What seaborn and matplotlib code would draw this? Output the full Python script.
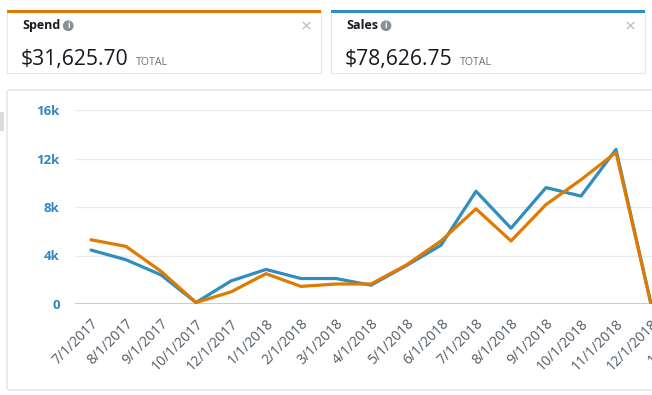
import matplotlib
matplotlib.use("Agg")
import matplotlib.pyplot as plt
from matplotlib.patches import Rectangle, FancyBboxPatch, Circle
import seaborn as sns
import pandas as pd

# ---- data ----
dates = ["7/1/2017", "8/1/2017", "9/1/2017", "10/1/2017", "12/1/2017",
         "1/1/2018", "2/1/2018", "3/1/2018", "4/1/2018", "5/1/2018",
         "6/1/2018", "7/1/2018", "8/1/2018", "9/1/2018", "10/1/2018",
         "11/1/2018", "12/1/2018", "1/1/2019"]
sales = [4450, 3650, 2400, 120, 1900, 2850, 2100, 2100, 1550, 3150,
         4850, 9300, 6250, 9600, 8900, 12750, 0]
spend = [5300, 4750, 2700, 120, 1000, 2500, 1450, 1650, 1650, 3200,
         5200, 7850, 5200, 8200, 10250, 12500, 0]
y_ticks = [0, 4000, 8000, 12000, 16000]
y_tick_labels = ["0", "4k", "8k", "12k", "16k"]
card_titles = ["Spend", "Sales"]
card_values = ["$31,625.70", "$78,626.75"]
card_note = "TOTAL"

ORANGE = "#e17a00"
BLUE = "#2e8ec0"

sns.set_theme(style="white")
plt.rcParams["font.family"] = ["Open Sans", "DejaVu Sans"]

W, H = 652, 395
fig = plt.figure(figsize=(W / 100, H / 100), dpi=100)
fig.patch.set_facecolor("white")

def fx(x):
    return x / W

def fy(y):
    return 1 - y / H

# ---- chart panel ----
panel = FancyBboxPatch((fx(7), fy(390)), fx(700) - fx(7), fy(90) - fy(390),
                       boxstyle="round,pad=0,rounding_size=0.006",
                       transform=fig.transFigure, facecolor="white",
                       edgecolor="#e3e3e3", linewidth=1.0, zorder=0)
fig.add_artist(panel)
fig.add_artist(Rectangle((fx(0), fy(131)), fx(4), fy(112) - fy(131),
                         transform=fig.transFigure, facecolor="#dcdcdc",
                         edgecolor="none"))

# ---- cards ----
card_specs = [(7, 321, ORANGE), (331, 645, BLUE)]
for (x0, x1, col), title, val in zip(card_specs, card_titles, card_values):
    # shadow
    fig.add_artist(Rectangle((fx(x0), fy(74)), fx(x1) - fx(x0), fy(12) - fy(74),
                             transform=fig.transFigure, facecolor="#ececec",
                             edgecolor="none", zorder=1))
    fig.add_artist(Rectangle((fx(x0), fy(73)), fx(x1) - fx(x0), fy(12) - fy(73),
                             transform=fig.transFigure, facecolor="white",
                             edgecolor="#e6e6e6", linewidth=0.8, zorder=2))
    fig.add_artist(Rectangle((fx(x0), fy(13)), fx(x1) - fx(x0), fy(10) - fy(13),
                             transform=fig.transFigure, facecolor=col,
                             edgecolor="none", zorder=3))
    tx = x0 + 15
    t = fig.text(fx(tx), fy(25.5), title, fontsize=9, fontweight="bold",
                 color="#16191f", va="center", ha="left", zorder=4)
    fig.canvas.draw()
    bb = t.get_window_extent()
    cx = bb.x1 + 8
    fig.add_artist(Circle((cx, H - 25.7), 5.4, transform=None,
                          facecolor="#879196", edgecolor="none", zorder=4))
    fig.text(cx / W, fy(25.7), "i", fontsize=6, fontweight="bold",
             color="white", ha="center", va="center", zorder=5)
    fig.text(fx(x1 - 15), fy(27), "\u00d7", fontsize=14, color="#b4bdc0",
             ha="center", va="center", zorder=4)
    v = fig.text(fx(tx - 1), fy(65), val, fontsize=15.2, color="#16191f",
                 ha="left", va="baseline", zorder=4)
    fig.canvas.draw()
    vb = v.get_window_extent()
    fig.text((vb.x1 + 7) / W, fy(65), card_note, fontsize=7.6,
             color="#687078", ha="left", va="baseline", zorder=4)

# ---- line chart ----
ax = fig.add_axes([fx(75), fy(304), fx(700) - fx(75), fy(110) - fy(304)])
ax.set_facecolor("none")

n = len(sales)
df = pd.DataFrame({
    "idx": list(range(n)) * 2,
    "value": sales + spend,
    "series": ["Sales"] * n + ["Spend"] * n,
})
sns.lineplot(data=df, x="idx", y="value", hue="series",
             hue_order=["Sales", "Spend"],
             palette={"Sales": BLUE, "Spend": ORANGE},
             linewidth=2.3, legend=False, sort=False, ax=ax, zorder=3)

ax.set_xlim(-0.457, 17.4)
ax.set_ylim(0, 16000)
ax.set_yticks(y_ticks)
ax.set_yticklabels(y_tick_labels)
ax.set_xticks(range(len(dates)))
ax.set_xticklabels(dates, rotation=45, ha="right", va="top",
                   rotation_mode="anchor")
for yv in y_ticks[1:]:
    ax.axhline(yv, color="#e9ebed", linewidth=1.0, zorder=1)
ax.axhline(0, color="#b8c9da", linewidth=1.3, zorder=2)
for s in ax.spines.values():
    s.set_visible(False)
ax.tick_params(axis="y", length=0, pad=11, labelsize=9.5, labelcolor="#2f86c1")
ax.tick_params(axis="x", length=0, pad=9, labelsize=10, labelcolor="#545b64")
for lab in ax.get_yticklabels():
    lab.set_fontweight("bold")
ax.set_xlabel("")
ax.set_ylabel("")
ax.grid(False)

fig.savefig("out.png", dpi=100, facecolor="white")
